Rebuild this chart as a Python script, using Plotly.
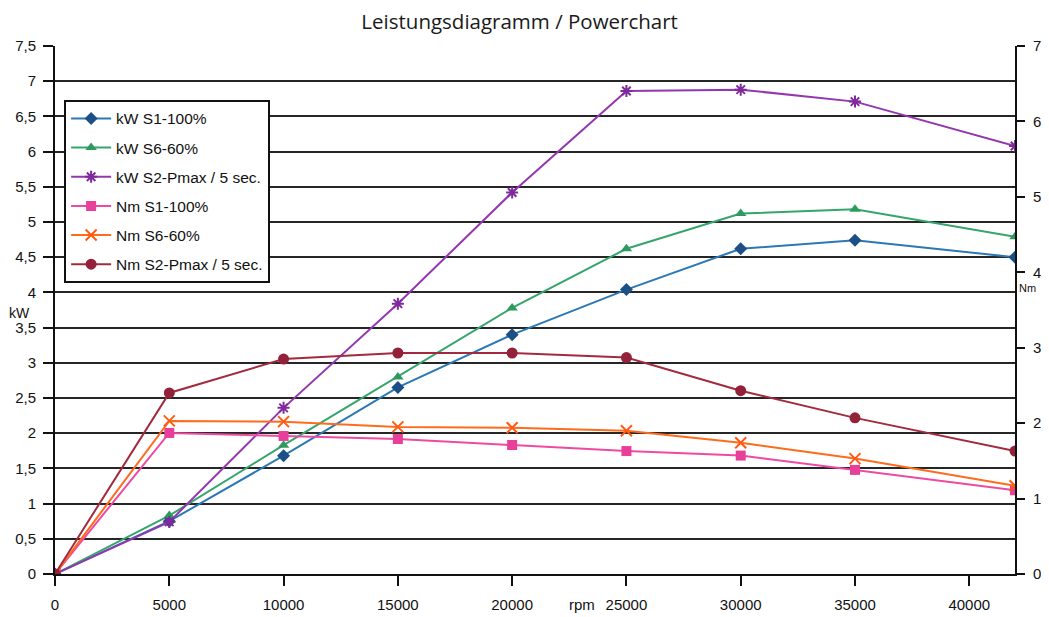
import plotly.graph_objects as go

rpm = [0, 5000, 10000, 15000, 20000, 25000, 30000, 35000, 42000]

kw_s1 = [0, 0.75, 1.68, 2.65, 3.40, 4.04, 4.62, 4.74, 4.50]
kw_s6 = [0, 0.83, 1.83, 2.80, 3.78, 4.62, 5.12, 5.18, 4.79]
kw_s2 = [0, 0.74, 2.36, 3.84, 5.42, 6.86, 6.88, 6.71, 6.08]

nm_s1 = [0, 1.87, 1.83, 1.79, 1.71, 1.63, 1.57, 1.38, 1.11]
nm_s6 = [0, 2.03, 2.02, 1.95, 1.94, 1.90, 1.74, 1.53, 1.17]
nm_s2 = [0, 2.40, 2.85, 2.93, 2.93, 2.87, 2.43, 2.07, 1.63]

names = ["kW S1-100%", "kW S6-60%", "kW S2-Pmax / 5 sec.",
         "Nm S1-100%", "Nm S6-60%", "Nm S2-Pmax / 5 sec."]
series = [kw_s1, kw_s6, kw_s2, nm_s1, nm_s6, nm_s2]
axes = ["y", "y", "y", "y2", "y2", "y2"]
line_colors = ["#2a78b5", "#36a56c", "#9436b0", "#ee4aa2", "#ff6b1c", "#a32a3e"]
marker_colors = ["#1c4f86", "#2f9a5e", "#7e2a9c", "#e8409a", "#ff5a10", "#93213a"]
symbols = ["diamond", "triangle-up", "asterisk-open", "square", "x-thin-open", "circle"]
msizes = [10, 10, 10, 10, 11, 11]

kw_ticks = [0, 0.5, 1, 1.5, 2, 2.5, 3, 3.5, 4, 4.5, 5, 5.5, 6, 6.5, 7, 7.5]
grid_vals = [0.5, 1, 1.5, 2, 2.5, 3, 3.5, 4, 4.5, 5, 5.5, 6, 6.5, 7]
nm_ticks = [0, 1, 2, 3, 4, 5, 6, 7]
rpm_ticks = [0, 5000, 10000, 15000, 20000, 25000, 30000, 35000, 40000]

FONT = "Liberation Sans, Arial, sans-serif"

fig = go.Figure()

# invisible trace to carry the grid axis
fig.add_trace(go.Scatter(x=[0], y=[0], yaxis="y3", mode="markers",
                         marker=dict(opacity=0), showlegend=False, hoverinfo="skip"))

for i, (nm, ys) in enumerate(zip(names, series)):
    thin = symbols[i].endswith("-open")
    fig.add_trace(go.Scatter(
        x=rpm, y=ys, name=nm, yaxis=axes[i], mode="lines+markers",
        legendgroup=f"g{i}",
        line=dict(color=line_colors[i], width=2),
        marker=dict(symbol=symbols[i], size=msizes[i], color=marker_colors[i],
                    line=dict(color=marker_colors[i], width=2 if thin else 0)),
    ))

# page body has an 8px margin, so the figure is sized/offset to compensate
fig.update_layout(
    width=1041, height=609,
    margin=dict(l=47, r=34, t=38, b=43, autoexpand=False),
    paper_bgcolor="white", plot_bgcolor="white",
    separators=",.",
    font=dict(family=FONT, size=14, color="#111"),
    title=dict(text="Leistungsdiagramm / Powerchart", x=0.484, xref="paper",
               y=0.977, yref="container", xanchor="center", yanchor="middle",
               font=dict(family="Open Sans, sans-serif", size=20.5, color="#1a1a1a")),
    xaxis=dict(range=[0, 42000], tickvals=rpm_ticks, ticktext=[str(v) for v in rpm_ticks],
               showgrid=False, zeroline=False, showline=True, linecolor="#111", linewidth=2,
               ticks="outside", ticklen=10, tickcolor="#111", tickwidth=2, automargin=False,
               ticklabelstandoff=6, tickfont=dict(size=15)),
    yaxis=dict(range=[0, 7.5], tickvals=kw_ticks, showgrid=False, zeroline=False,
               showline=True, linecolor="#111", linewidth=2, automargin=False,
               ticks="outside", ticklen=10, tickcolor="#111", tickwidth=2,
               ticklabelstandoff=4, tickfont=dict(size=15)),
    yaxis2=dict(range=[0, 7], tickvals=nm_ticks, overlaying="y", side="right",
                showgrid=False, zeroline=False, showline=True, linecolor="#111", linewidth=2,
                ticks="outside", ticklen=8, tickcolor="#111", tickwidth=2, automargin=False,
                ticklabelstandoff=5, tickfont=dict(size=15)),
    yaxis3=dict(range=[0, 7.5], tickvals=grid_vals, overlaying="y", showgrid=True,
                gridcolor="#262626", gridwidth=2, showticklabels=False, ticks="",
                zeroline=False, showline=False, automargin=False),
    legend=dict(x=0.0095, y=0.898, xanchor="left", yanchor="top",
                bgcolor="white", bordercolor="#111", borderwidth=2,
                font=dict(family=FONT, size=15.5, color="#111"),
                tracegroupgap=6, itemwidth=40),
    showlegend=True,
    annotations=[
        dict(text="kW", xref="paper", yref="paper", x=-0.0365, y=0.494,
             xanchor="center", yanchor="middle",
             showarrow=False, font=dict(size=14)),
        dict(text="Nm", xref="paper", yref="paper", x=1.0125, y=0.542,
             xanchor="center", yanchor="middle",
             showarrow=False, font=dict(size=11)),
        dict(text="rpm", xref="paper", yref="paper", x=0.549, y=-0.0587,
             xanchor="center", yanchor="middle",
             showarrow=False, font=dict(size=15)),
    ],
)

fig.write_html("out.html")
